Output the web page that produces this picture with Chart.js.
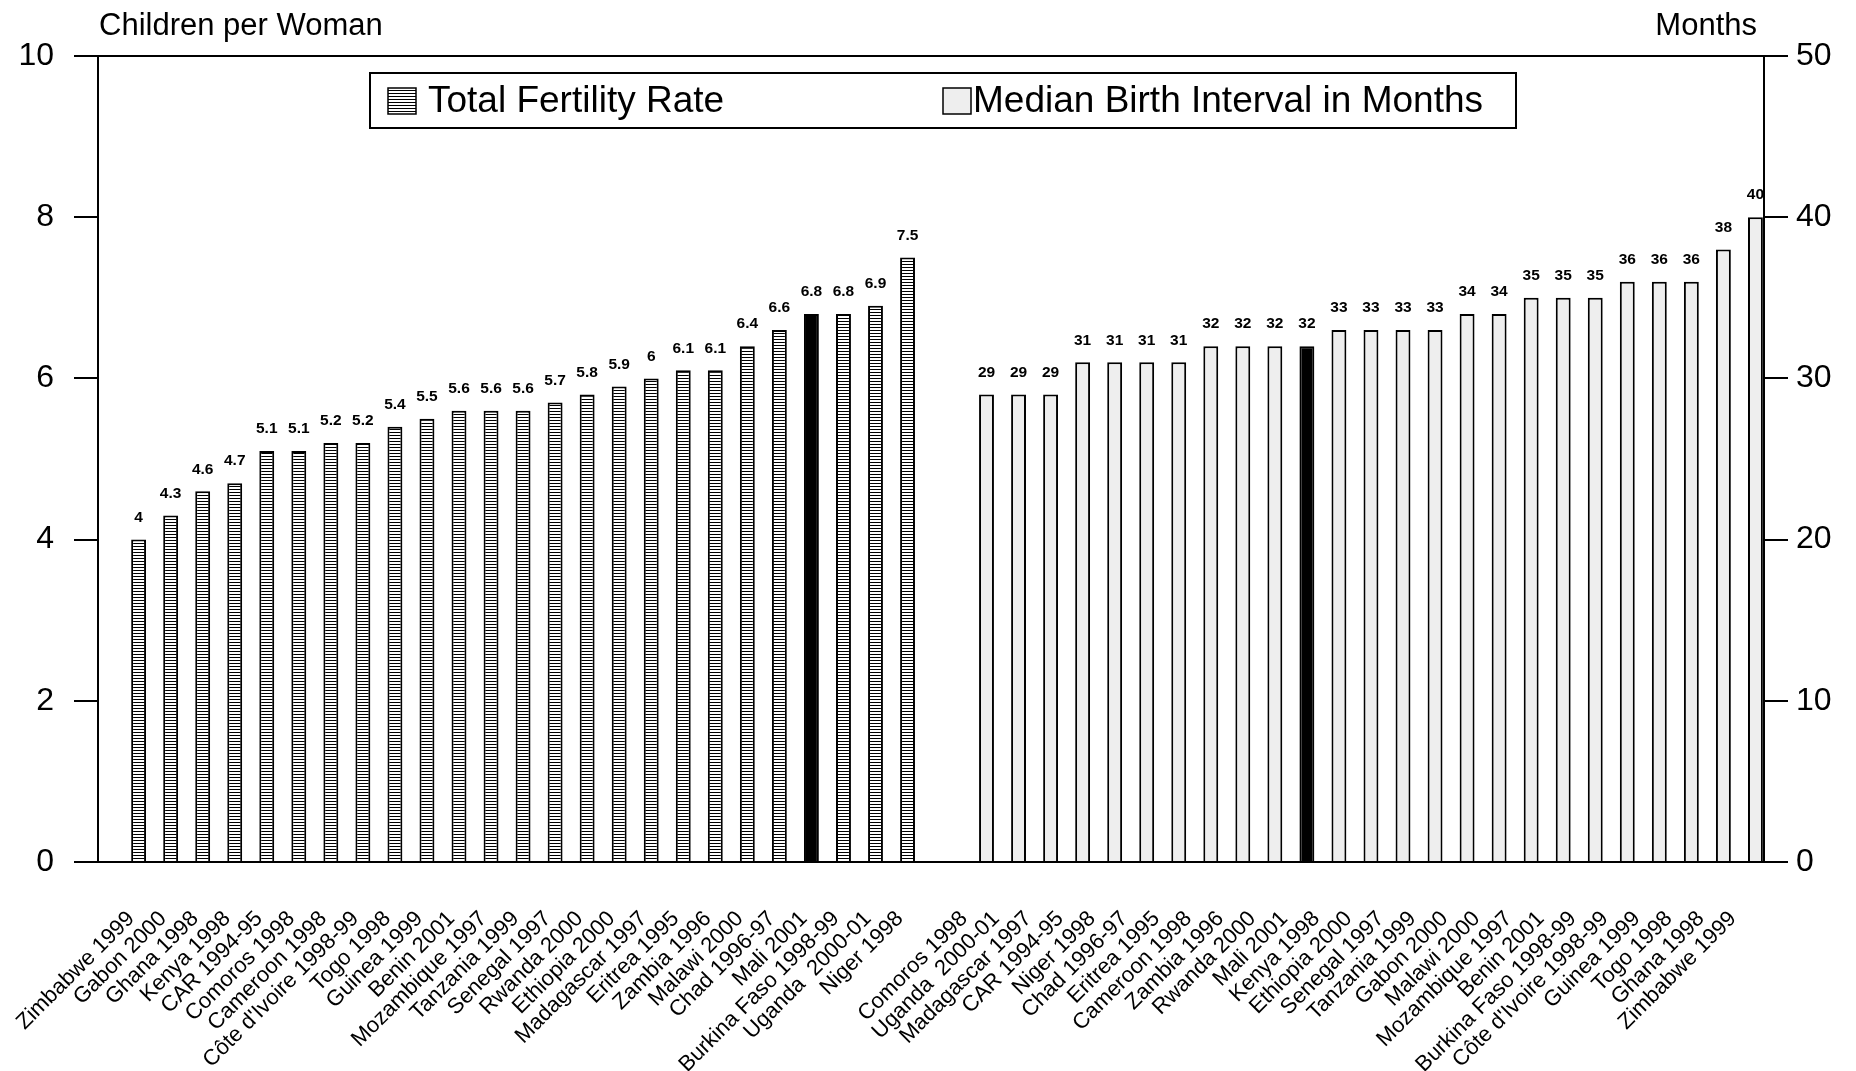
<!DOCTYPE html>
<html>
<head>
<meta charset="utf-8">
<script src="https://cdn.jsdelivr.net/npm/chart.js@4.4.1/dist/chart.umd.min.js"></script>
<style>
    html, body { margin: 0; padding: 0; background: #fff; }
</style>
</head>
<body>
<canvas id="fertilityCanvas" width="1856" height="1071"></canvas>
<script>
// Data
const tfrCountries = [
    'Zimbabwe 1999', 'Gabon 2000', 'Ghana 1998', 'Kenya 1998', 'CAR 1994-95',
    'Comoros 1998', 'Cameroon 1998', "Côte d'Ivoire 1998-99", 'Togo 1998', 'Guinea 1999',
    'Benin 2001', 'Mozambique 1997', 'Tanzania 1999', 'Senegal 1997', 'Rwanda 2000',
    'Ethiopia 2000', 'Madagascar 1997', 'Eritrea 1995', 'Zambia 1996', 'Malawi 2000',
    'Chad 1996-97', 'Mali 2001', 'Burkina Faso 1998-99', 'Uganda  2000-01', 'Niger 1998'
];
const tfrValues = [4, 4.3, 4.6, 4.7, 5.1, 5.1, 5.2, 5.2, 5.4, 5.5, 5.6, 5.6, 5.6, 5.7, 5.8, 5.9, 6, 6.1, 6.1, 6.4, 6.6, 6.8, 6.8, 6.9, 7.5];

const intervalCountries = [
    'Comoros 1998', 'Uganda  2000-01', 'Madagascar 1997', 'CAR 1994-95', 'Niger 1998',
    'Chad 1996-97', 'Eritrea 1995', 'Cameroon 1998', 'Zambia 1996', 'Rwanda 2000',
    'Mali 2001', 'Kenya 1998', 'Ethiopia 2000', 'Senegal 1997', 'Tanzania 1999',
    'Gabon 2000', 'Malawi 2000', 'Mozambique 1997', 'Benin 2001', 'Burkina Faso 1998-99',
    "Côte d'Ivoire 1998-99", 'Guinea 1999', 'Togo 1998', 'Ghana 1998', 'Zimbabwe 1999'
];
const intervalValues = [29, 29, 29, 31, 31, 31, 31, 32, 32, 32, 32, 33, 33, 33, 33, 34, 34, 35, 35, 35, 36, 36, 36, 38, 40];

const highlightCountry = 'Mali 2001';
const leftTicks = [0, 2, 4, 6, 8, 10];
const rightTicks = [0, 10, 20, 30, 40, 50];

// one empty slot before each group
const labels = ['', ...tfrCountries, '', ...intervalCountries];
const tfrData = [null, ...tfrValues, null, ...intervalCountries.map(() => null)];
const intervalData = [null, ...tfrCountries.map(() => null), null, ...intervalValues];

const FONT = '"Liberation Sans", Arial, sans-serif';
Chart.defaults.font.family = FONT;
Chart.defaults.color = '#000';

const canvas = document.getElementById('fertilityCanvas');
const ctx = canvas.getContext('2d');

// horizontal line hatch for the fertility bars
function makeHatch() {
    const c = document.createElement('canvas');
    c.width = 4;
    c.height = 3;
    const g = c.getContext('2d');
    g.fillStyle = '#fff';
    g.fillRect(0, 0, 4, 3);
    g.fillStyle = '#000';
    g.fillRect(0, 0, 4, 1);
    return ctx.createPattern(c, 'repeat');
}
const hatch = makeHatch();
const lightGrey = '#eeeeee';

const tfrColors = labels.map((l, i) => (i <= 25 && l === highlightCountry) ? '#000' : hatch);
const intervalColors = labels.map((l, i) => (i > 26 && l === highlightCountry) ? '#000' : lightGrey);

// Value labels above bars
const valueLabels = {
    id: 'valueLabels',
    afterDatasetsDraw(chart) {
        const c = chart.ctx;
        c.save();
        c.font = 'bold 15.5px ' + FONT;
        c.fillStyle = '#000';
        c.textAlign = 'center';
        c.textBaseline = 'middle';
        chart.data.datasets.forEach((ds, di) => {
            chart.getDatasetMeta(di).data.forEach((bar, i) => {
                const v = ds.data[i];
                if (v === null) return;
                c.fillText(String(v), bar.x, bar.y - 22);
            });
        });
        c.restore();
    }
};

// Frame, axis titles and boxed legend
const frame = {
    id: 'frame',
    afterDraw(chart) {
        const c = chart.ctx;
        const a = chart.chartArea;
        c.save();
        c.strokeStyle = '#000';
        c.lineWidth = 2;
        c.strokeRect(a.left, a.top, a.right - a.left, a.bottom - a.top);

        c.fillStyle = '#000';
        c.textBaseline = 'middle';
        c.font = '31px ' + FONT;
        c.textAlign = 'left';
        c.fillText('Children per Woman', a.left + 1, 26);
        c.textAlign = 'right';
        c.fillText('Months', a.right - 7, 26);

        // legend
        c.lineWidth = 2;
        c.fillStyle = '#fff';
        c.fillRect(370, 73, 1146, 55);
        c.strokeRect(370, 73, 1146, 55);
        const items = [
            { x: 388, tx: 428, fill: hatch, text: chart.data.datasets[0].label },
            { x: 943, tx: 973, fill: lightGrey, text: chart.data.datasets[1].label }
        ];
        c.font = '37px ' + FONT;
        c.textAlign = 'left';
        items.forEach(it => {
            c.fillStyle = it.fill;
            c.fillRect(it.x, 88, 28, 26);
            c.lineWidth = 1.5;
            c.strokeRect(it.x, 88, 28, 26);
            c.fillStyle = '#000';
            c.fillText(it.text, it.tx, 102);
        });
        c.restore();
    }
};

new Chart(ctx, {
    type: 'bar',
    data: {
        labels: labels,
        datasets: [
            {
                label: 'Total Fertility Rate',
                data: tfrData,
                yAxisID: 'y',
                backgroundColor: tfrColors,
                borderColor: '#000',
                borderWidth: 2,
                barPercentage: 1,
                categoryPercentage: 0.93
            },
            {
                label: 'Median Birth Interval in Months',
                data: intervalData,
                yAxisID: 'y1',
                backgroundColor: intervalColors,
                borderColor: '#000',
                borderWidth: 2,
                barPercentage: 1,
                categoryPercentage: 0.93
            }
        ]
    },
    options: {
        responsive: false,
        animation: false,
        devicePixelRatio: 1,
        layout: {
            padding: { top: 56, left: 0, right: 0, bottom: 0 }
        },
        plugins: {
            legend: { display: false },
            tooltip: { enabled: false }
        },
        scales: {
            x: {
                grid: { display: false, drawTicks: false },
                border: { display: true, color: '#000', width: 2 },
                ticks: {
                    autoSkip: false,
                    maxRotation: 45,
                    minRotation: 45,
                    padding: 44,
                    labelOffset: -15,
                    font: { size: 22 }
                },
                afterFit: s => { s.height = 209; }
            },
            y: {
                position: 'left',
                min: 0,
                max: 10,
                afterBuildTicks: s => { s.ticks = leftTicks.map(v => ({ value: v })); },
                grid: { drawOnChartArea: false, drawTicks: true, tickLength: 24, color: '#000', lineWidth: 2 },
                border: { display: true, color: '#000', width: 2 },
                ticks: { padding: 20, font: { size: 32 } },
                afterFit: s => { s.width = 98; }
            },
            y1: {
                position: 'right',
                min: 0,
                max: 50,
                afterBuildTicks: s => { s.ticks = rightTicks.map(v => ({ value: v })); },
                grid: { drawOnChartArea: false, drawTicks: true, tickLength: 24, color: '#000', lineWidth: 2 },
                border: { display: true, color: '#000', width: 2 },
                ticks: { padding: 8, font: { size: 32 } },
                afterFit: s => { s.width = 92; }
            }
        }
    },
    plugins: [valueLabels, frame]
});
</script>
</body>
</html>
